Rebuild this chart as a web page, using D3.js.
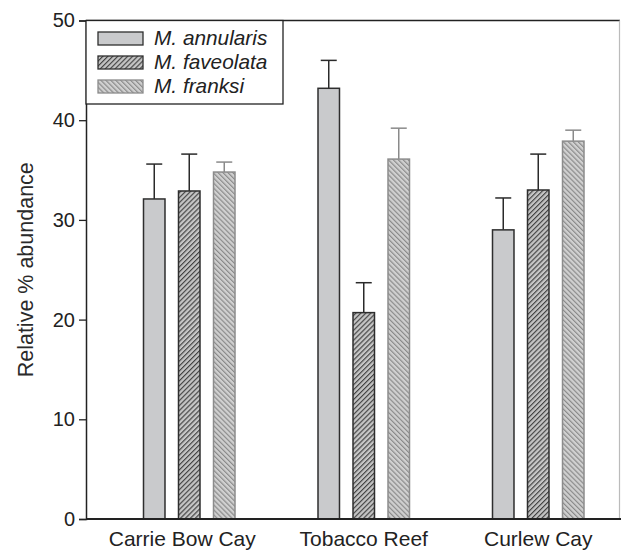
<!DOCTYPE html>
<html>
<head>
<meta charset="utf-8">
<script src="https://cdn.jsdelivr.net/npm/d3@7"></script>
<style>
  body { margin: 0; background: #fff; }
  svg { display: block; font-family: "Liberation Sans", Arial, Helvetica, sans-serif; }
</style>
</head>
<body>
<svg id="chart" width="621" height="552"></svg>
<script>
const categories = ["Carrie Bow Cay", "Tobacco Reef", "Curlew Cay"];
const seriesNames = ["M. annularis", "M. faveolata", "M. franksi"];
const annularis = [32.1, 43.2, 29.0];
const faveolata = [32.9, 20.7, 33.0];
const franksi = [34.8, 36.1, 37.9];
const annularisErr = [3.5, 2.8, 3.2];
const faveolataErr = [3.7, 3.0, 3.6];
const franksiErr = [1.0, 3.1, 1.1];
const yTicks = [0, 10, 20, 30, 40, 50];

const seriesValues = [annularis, faveolata, franksi];
const seriesErrs = [annularisErr, faveolataErr, franksiErr];

const styles = [
  { fill: "#c9cacc", stroke: "#2e2e2e", err: "#2a2a2a" },
  { fill: "url(#hatchFav)", stroke: "#2e2e2e", err: "#2a2a2a" },
  { fill: "url(#hatchFra)", stroke: "#8c8c8c", err: "#8a8a8a" }
];

const svg = d3.select("#chart");
const pLeft = 86, pRight = 620, pTop = 20.5, pBottom = 519;

const defs = svg.append("defs");
function hatch(id, angle, bg, line, w) {
  const p = defs.append("pattern")
    .attr("id", id).attr("patternUnits", "userSpaceOnUse")
    .attr("width", w).attr("height", w)
    .attr("patternTransform", `rotate(${angle})`);
  p.append("rect").attr("width", w).attr("height", w).attr("fill", bg);
  p.append("line").attr("x1", 0.6).attr("y1", 0).attr("x2", 0.6).attr("y2", w)
    .attr("stroke", line).attr("stroke-width", 1.1);
}
hatch("hatchFav", 45, "#c6c6c6", "#3a3a3a", 3.5);
hatch("hatchFra", -45, "#d0d0d0", "#858585", 3.5);

const y = d3.scaleLinear().domain([0, 50]).range([pBottom, pTop]);
const x0 = d3.scaleBand().domain(categories).range([102, 625.5]).padding(0);
const x1 = d3.scaleBand().domain(seriesNames).range([-45.75, 45.75]).paddingInner(0.386);

// frame: top and right
svg.append("line").attr("x1", pLeft).attr("x2", pRight).attr("y1", pTop).attr("y2", pTop)
  .attr("stroke", "#222").attr("stroke-width", 1.5);
svg.append("line").attr("x1", 619.5).attr("x2", 619.5).attr("y1", pTop).attr("y2", pBottom)
  .attr("stroke", "#bbb").attr("stroke-width", 1.2);

// bars
categories.forEach((cat, ci) => {
  const cx = x0(cat) + x0.bandwidth() / 2;
  seriesNames.forEach((s, si) => {
    const v = seriesValues[si][ci];
    const e = seriesErrs[si][ci];
    const bx = cx + x1(s);
    const bw = x1.bandwidth();
    const st = styles[si];
    const mid = bx + bw / 2;
    svg.append("line").attr("x1", mid).attr("x2", mid)
      .attr("y1", y(v)).attr("y2", y(v + e))
      .attr("stroke", st.err).attr("stroke-width", 1.5);
    svg.append("line").attr("x1", mid - 8).attr("x2", mid + 8)
      .attr("y1", y(v + e)).attr("y2", y(v + e))
      .attr("stroke", st.err).attr("stroke-width", 1.5);
    svg.append("rect").attr("x", bx).attr("y", y(v))
      .attr("width", bw).attr("height", y(0) - y(v))
      .attr("fill", st.fill).attr("stroke", st.stroke).attr("stroke-width", 1.5);
  });
});

// y axis
const yAxis = svg.append("g").attr("transform", `translate(${pLeft},0)`)
  .call(d3.axisLeft(y).tickValues(yTicks).tickSize(7).tickPadding(4));
yAxis.select(".domain").attr("stroke", "#222").attr("stroke-width", 1.5);
yAxis.selectAll(".tick line").attr("stroke", "#222").attr("stroke-width", 1.3);
yAxis.selectAll(".tick text").attr("fill", "#222")
  .style("font-size", "20px").style("font-family", "'Liberation Sans', Arial, sans-serif");

// x axis
const xAxis = svg.append("g").attr("transform", `translate(0,${pBottom})`)
  .call(d3.axisBottom(x0).tickSize(0).tickPadding(12.5));
xAxis.select(".domain").remove();
svg.append("line").attr("x1", pLeft).attr("x2", 621).attr("y1", pBottom).attr("y2", pBottom)
  .attr("stroke", "#222").attr("stroke-width", 1.8);
xAxis.selectAll(".tick text").attr("fill", "#222")
  .attr("dx", (d, i) => i === 0 ? -7 : 0)
  .style("font-size", "21px").style("font-family", "'Liberation Sans', Arial, sans-serif");

// y title
svg.append("text")
  .attr("transform", `translate(33,${(pTop + pBottom) / 2}) rotate(-90)`)
  .attr("text-anchor", "middle")
  .attr("fill", "#2a2a2a")
  .style("font-size", "21.5px")
  .text("Relative % abundance");

// legend
const lg = svg.append("g");
lg.append("rect").attr("x", pLeft).attr("y", pTop).attr("width", 283 - pLeft).attr("height", 104 - pTop)
  .attr("fill", "#fff").attr("stroke", "#222").attr("stroke-width", 1.3);
seriesNames.forEach((s, i) => {
  const yy = 32 + i * 24;
  lg.append("rect").attr("x", 98).attr("y", yy).attr("width", 45).attr("height", 13)
    .attr("fill", styles[i].fill).attr("stroke", styles[i].stroke).attr("stroke-width", 1.3);
  lg.append("text").attr("x", 154).attr("y", yy + 13)
    .attr("fill", "#222").style("font-size", "20.8px").style("font-style", "italic")
    .text(s);
});
</script>
</body>
</html>
